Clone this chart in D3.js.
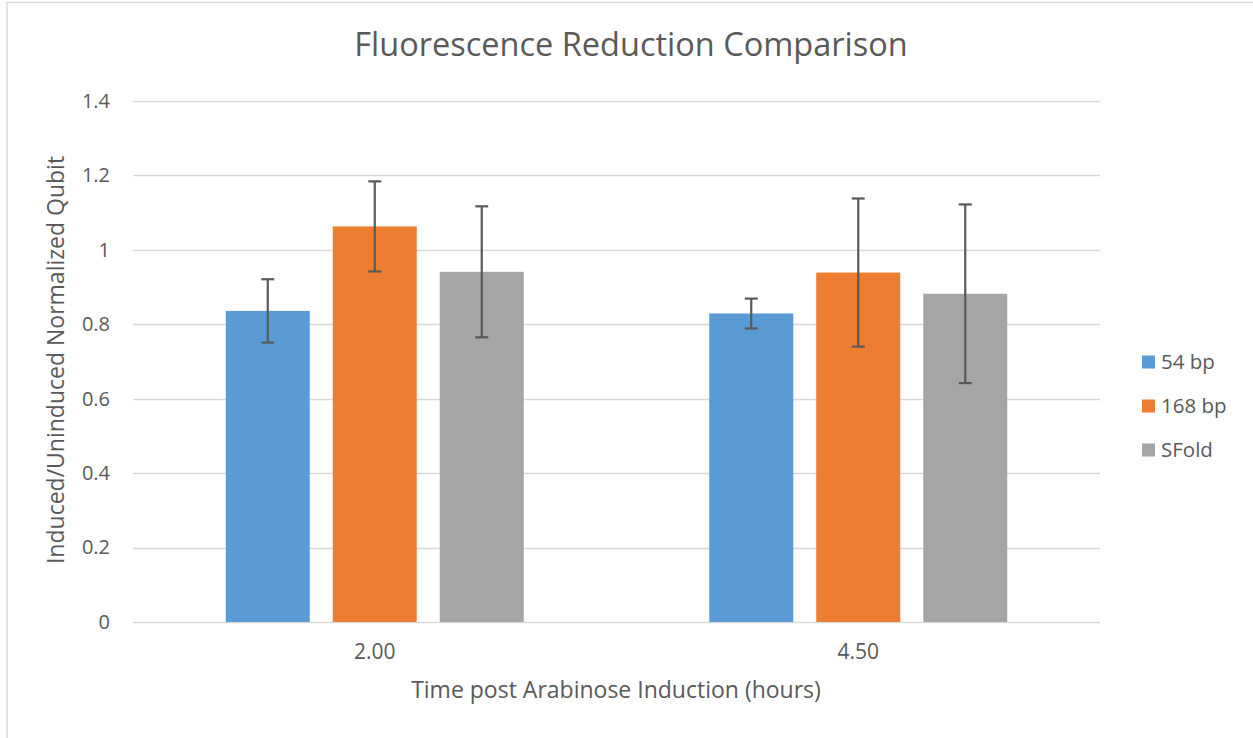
<!DOCTYPE html>
<html><head><meta charset="utf-8">
<script src="https://cdn.jsdelivr.net/npm/d3@7"></script>
<style>
html,body{margin:0;padding:0;background:#fff;}
svg{display:block;font-family:"Open Sans",sans-serif;}
</style></head>
<body>
<svg id="chart" width="1253" height="738"></svg>
<script>
const categories = ["2.00", "4.50"];
const seriesNames = ["54 bp", "168 bp", "SFold"];
const seriesColors = ["#5B9BD5", "#ED7D31", "#A5A5A5"];
const values54 = [0.836, 0.829];
const values168 = [1.063, 0.939];
const valuesSFold = [0.941, 0.882];
const err54 = [0.085, 0.040];
const err168 = [0.121, 0.199];
const errSFold = [0.176, 0.240];
const yTicks = [0, 0.2, 0.4, 0.6, 0.8, 1, 1.2, 1.4];

const seriesValues = [values54, values168, valuesSFold];
const seriesErr = [err54, err168, errSFold];

const svg = d3.select("#chart");
const W = 1253, H = 738;
const plot = {left: 133, right: 1100, top: 101, bottom: 622};
const textColor = "#595959";

// border
svg.append("path").attr("d", `M7,${H} L7,2.5 L${W},2.5`).attr("fill","none").attr("stroke","#D9D9D9").attr("stroke-width",1.5);

const x0 = d3.scaleBand().domain(categories).range([plot.left, plot.right]).padding(0);
const groupW = x0.bandwidth() * 298/483.5;
const x1 = d3.scaleBand().domain(seriesNames).range([-groupW/2, groupW/2]).paddingInner(23/107).paddingOuter(0);
const y = d3.scaleLinear().domain([0, 1.4]).range([plot.bottom, plot.top]);

// gridlines
svg.append("g").selectAll("line").data(yTicks).join("line")
  .attr("x1", plot.left).attr("x2", plot.right)
  .attr("y1", d => Math.round(y(d))+0.5).attr("y2", d => Math.round(y(d))+0.5)
  .attr("stroke", "#D9D9D9").attr("stroke-width", 1.3);

// y axis labels
const yAxis = d3.axisLeft(y).tickValues(yTicks).tickSize(0).tickPadding(0).tickFormat(d => d3.format("")(d));
const gy = svg.append("g").attr("transform", `translate(${plot.left-23},0)`).call(yAxis);
gy.select(".domain").remove();
gy.selectAll("text").attr("fill", textColor).style("font-size", "20px").style("font-family", '"Open Sans",sans-serif');

// bars
seriesNames.forEach((s, si) => {
  const g = svg.append("g");
  g.selectAll("rect").data(categories).join("rect")
    .attr("x", c => x0(c) + x0.bandwidth()/2 + x1(s))
    .attr("width", x1.bandwidth())
    .attr("y", (c, i) => y(seriesValues[si][i]))
    .attr("height", (c, i) => y(0) - y(seriesValues[si][i]))
    .attr("fill", seriesColors[si]);
});

// error bars
seriesNames.forEach((s, si) => {
  const g = svg.append("g").attr("stroke", "#595959").attr("stroke-width", 2.2);
  categories.forEach((c, i) => {
    const cx = x0(c) + x0.bandwidth()/2 + x1(s) + x1.bandwidth()/2;
    const v = seriesValues[si][i], e = seriesErr[si][i];
    g.append("line").attr("x1", cx).attr("x2", cx).attr("y1", y(v+e)).attr("y2", y(v-e));
    g.append("line").attr("x1", cx-6.5).attr("x2", cx+6.5).attr("y1", y(v+e)).attr("y2", y(v+e));
    g.append("line").attr("x1", cx-6.5).attr("x2", cx+6.5).attr("y1", y(v-e)).attr("y2", y(v-e));
  });
});

// x axis labels
const xAxis = d3.axisBottom(x0).tickSize(0).tickPadding(0);
const gx = svg.append("g").attr("transform", `translate(0,${plot.bottom})`).call(xAxis);
gx.select(".domain").remove();
gx.selectAll("text").attr("y", 37).attr("dy", null).attr("fill", textColor).style("font-size", "21px").style("font-family", '"Open Sans",sans-serif');

// title
svg.append("text").attr("x", 631).attr("y", 56).attr("text-anchor", "middle")
  .attr("fill", textColor).style("font-size", "32.5px").text("Fluorescence Reduction Comparison");

// axis titles
svg.append("text").attr("x", 616).attr("y", 698).attr("text-anchor", "middle")
  .attr("fill", textColor).style("font-size", "23px").text("Time post Arabinose Induction (hours)");
svg.append("text").attr("transform", "translate(64,360) rotate(-90)").attr("text-anchor", "middle")
  .attr("fill", textColor).style("font-size", "23px").text("Induced/Uninduced Normalized Qubit");

// legend
const lg = svg.append("g");
seriesNames.forEach((s, i) => {
  const cy = 362 + i*44;
  lg.append("rect").attr("x", 1142).attr("y", cy-6.5).attr("width", 13).attr("height", 13).attr("fill", seriesColors[i]);
  lg.append("text").attr("x", 1161).attr("y", cy).attr("dy", "0.35em").attr("fill", textColor)
    .style("font-size", "20.5px").text(s);
});
</script>
</body></html>
